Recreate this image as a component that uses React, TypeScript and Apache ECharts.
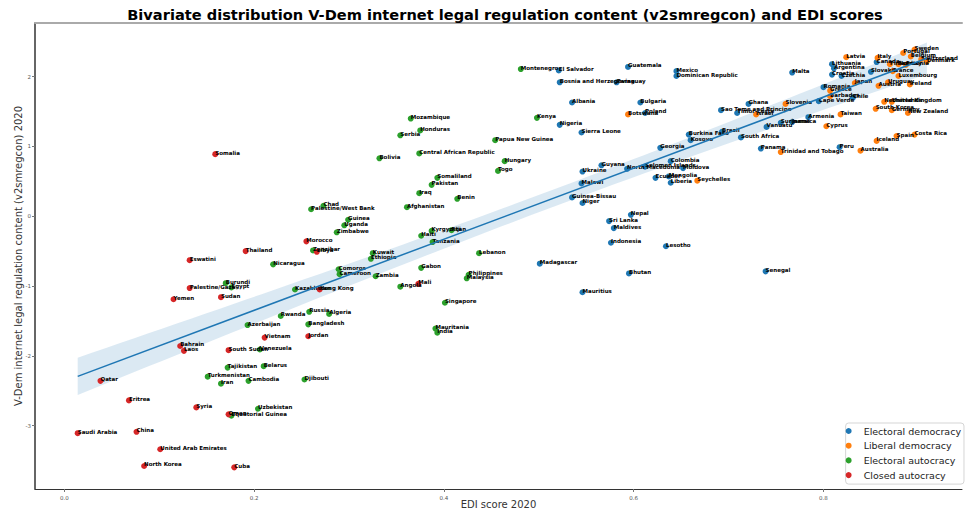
import React, { useEffect, useRef } from "react";
import * as echarts from "echarts";

type Pt = [string, number, number];

// [country, EDI score 2020, v2smregcon 2020]
const electoralDemocracy: Pt[] = [
  ["El Salvador", 0.521, 2.09], ["Bosnia and Herzegovina", 0.522, 1.92], ["Paraguay", 0.582, 1.92],
  ["Guatemala", 0.594, 2.14], ["Albania", 0.535, 1.63], ["Bulgaria", 0.607, 1.63], ["Poland", 0.612, 1.48],
  ["Nigeria", 0.522, 1.31], ["Sierra Leone", 0.545, 1.2], ["Guyana", 0.566, 0.73], ["Ukraine", 0.546, 0.64],
  ["North Macedonia", 0.593, 0.68], ["Malawi", 0.545, 0.47], ["Guinea-Bissau", 0.535, 0.27], ["Niger", 0.546, 0.19],
  ["Nepal", 0.597, 0.02], ["Sri Lanka", 0.574, -0.07], ["Maldives", 0.579, -0.17], ["Indonesia", 0.576, -0.38],
  ["Madagascar", 0.501, -0.68], ["Mauritius", 0.546, -1.09], ["Bhutan", 0.595, -0.82], ["Lesotho", 0.634, -0.43],
  ["Senegal", 0.739, -0.79], ["Colombia", 0.639, 0.79], ["Solomon Islands", 0.612, 0.71], ["Moldova", 0.652, 0.69],
  ["Ecuador", 0.623, 0.55], ["Mongolia", 0.637, 0.57], ["Liberia", 0.639, 0.48], ["Georgia", 0.628, 0.98],
  ["Burkina Faso", 0.658, 1.17], ["Kosovo", 0.66, 1.09], ["Brazil", 0.693, 1.21], ["South Africa", 0.713, 1.13],
  ["Panama", 0.734, 0.97], ["Peru", 0.817, 0.99], ["Mexico", 0.645, 2.08], ["Dominican Republic", 0.645, 2.01],
  ["Malta", 0.767, 2.06], ["Ghana", 0.721, 1.61], ["Sao Tome and Principe", 0.692, 1.52], ["Timor-Leste", 0.709, 1.48],
  ["Armenia", 0.784, 1.42], ["Suriname", 0.755, 1.34], ["Jamaica", 0.767, 1.35], ["Vanuatu", 0.74, 1.28],
  ["Romania", 0.8, 1.85], ["Cape Verde", 0.795, 1.65], ["Chile", 0.831, 1.7], ["Lithuania", 0.809, 2.18],
  ["Argentina", 0.811, 2.12], ["Croatia", 0.809, 2.03], ["Czechia", 0.819, 2.01], ["Slovakia", 0.85, 2.07],
  ["Canada", 0.856, 2.21],
];

const liberalDemocracy: Pt[] = [
  ["Botswana", 0.594, 1.46], ["Seychelles", 0.667, 0.51], ["Trinidad and Tobago", 0.755, 0.92], ["Israel", 0.729, 1.46],
  ["Slovenia", 0.76, 1.61], ["Barbados", 0.807, 1.72], ["Greece", 0.807, 1.8], ["Japan", 0.833, 1.91],
  ["Austria", 0.858, 1.87], ["Uruguay", 0.868, 1.92], ["Ireland", 0.891, 1.89], ["Luxembourg", 0.879, 2.01],
  ["France", 0.873, 2.08], ["Taiwan", 0.818, 1.46], ["Cyprus", 0.803, 1.29], ["Australia", 0.839, 0.94],
  ["Iceland", 0.856, 1.08], ["Spain", 0.877, 1.15], ["Costa Rica", 0.896, 1.17], ["New Zealand", 0.889, 1.48],
  ["South Korea", 0.855, 1.54], ["Germany", 0.872, 1.52], ["Netherlands", 0.864, 1.64], ["United Kingdom", 0.872, 1.64],
  ["Latvia", 0.824, 2.28], ["Italy", 0.857, 2.27], ["Portugal", 0.884, 2.34], ["Sweden", 0.896, 2.39],
  ["Belgium", 0.892, 2.29], ["Switzerland", 0.903, 2.25], ["Denmark", 0.909, 2.22], ["Finland", 0.87, 2.18],
  ["Norway", 0.879, 2.18], ["Estonia", 0.887, 2.17],
];

const electoralAutocracy: Pt[] = [
  ["Montenegro", 0.481, 2.11], ["Mozambique", 0.365, 1.4], ["Kenya", 0.498, 1.41], ["Serbia", 0.354, 1.16],
  ["Honduras", 0.375, 1.23], ["Papua New Guinea", 0.454, 1.09], ["Bolivia", 0.332, 0.83],
  ["Central African Republic", 0.374, 0.9], ["Hungary", 0.464, 0.79], ["Togo", 0.457, 0.65], ["Somaliland", 0.393, 0.55],
  ["Pakistan", 0.387, 0.45], ["Iraq", 0.374, 0.33], ["Benin", 0.414, 0.25], ["Afghanistan", 0.361, 0.13],
  ["Chad", 0.273, 0.15], ["Palestine/West Bank", 0.26, 0.1], ["Guinea", 0.299, -0.05], ["Uganda", 0.295, -0.13],
  ["Zimbabwe", 0.287, -0.23], ["Zanzibar", 0.262, -0.49], ["Kyrgyzstan", 0.387, -0.21], ["Fiji", 0.408, -0.2],
  ["Haiti", 0.376, -0.28], ["Tanzania", 0.388, -0.37], ["Lebanon", 0.437, -0.53], ["Kuwait", 0.325, -0.53],
  ["Ethiopia", 0.323, -0.61], ["Nicaragua", 0.22, -0.69], ["Comoros", 0.289, -0.76], ["Cameroon", 0.29, -0.83],
  ["Zambia", 0.328, -0.86], ["Gabon", 0.376, -0.74], ["Philippines", 0.426, -0.84], ["Malaysia", 0.424, -0.89],
  ["Angola", 0.354, -1.01], ["Burundi", 0.17, -0.96], ["Egypt", 0.176, -1.02], ["Kazakhstan", 0.243, -1.05],
  ["Singapore", 0.401, -1.24], ["Russia", 0.258, -1.37], ["Algeria", 0.279, -1.4], ["Rwanda", 0.228, -1.43],
  ["Azerbaijan", 0.193, -1.56], ["Bangladesh", 0.257, -1.55], ["Mauritania", 0.391, -1.61], ["India", 0.393, -1.67],
  ["Venezuela", 0.206, -1.91], ["Tajikistan", 0.172, -2.17], ["Belarus", 0.21, -2.15], ["Turkmenistan", 0.151, -2.3],
  ["Iran", 0.165, -2.4], ["Cambodia", 0.194, -2.36], ["Djibouti", 0.253, -2.34], ["Uzbekistan", 0.204, -2.76],
  ["Equatorial Guinea", 0.176, -2.86],
];

const closedAutocracy: Pt[] = [
  ["Somalia", 0.159, 0.89], ["Morocco", 0.255, -0.36], ["Libya", 0.266, -0.51], ["Thailand", 0.191, -0.5],
  ["Eswatini", 0.132, -0.63], ["Palestine/Gaza", 0.132, -1.03], ["Sudan", 0.165, -1.16], ["Yemen", 0.115, -1.19],
  ["Hong Kong", 0.269, -1.05], ["Mali", 0.373, -0.97], ["Vietnam", 0.211, -1.74], ["Jordan", 0.257, -1.72],
  ["Bahrain", 0.122, -1.86], ["Laos", 0.126, -1.93], ["South Sudan", 0.173, -1.92], ["Qatar", 0.038, -2.36],
  ["Eritrea", 0.068, -2.64], ["Syria", 0.139, -2.74], ["Oman", 0.173, -2.84], ["Saudi Arabia", 0.014, -3.11],
  ["China", 0.076, -3.09], ["United Arab Emirates", 0.101, -3.34], ["North Korea", 0.084, -3.58], ["Cuba", 0.179, -3.6],
];

const regimeNames = ["Electoral democracy", "Liberal democracy", "Electoral autocracy", "Closed autocracy"];
const regimeColors = ["#1f77b4", "#ff7f0e", "#2ca02c", "#d62728"];
const xTicks = [0, 0.2, 0.4, 0.6, 0.8];
const yTicks = [-3, -2, -1, 0, 1, 2];

const FONT = "DejaVu Sans";

function fitRegression(pts: Pt[]) {
  const n = pts.length;
  const xs = pts.map((p) => p[1]);
  const ys = pts.map((p) => p[2]);
  const mx = xs.reduce((a, b) => a + b, 0) / n;
  const my = ys.reduce((a, b) => a + b, 0) / n;
  let sxx = 0, sxy = 0;
  for (let i = 0; i < n; i++) {
    sxx += (xs[i] - mx) ** 2;
    sxy += (xs[i] - mx) * (ys[i] - my);
  }
  const b = sxy / sxx;
  const a = my - b * mx;
  let ss = 0;
  for (let i = 0; i < n; i++) ss += (ys[i] - a - b * xs[i]) ** 2;
  const s = Math.sqrt(ss / (n - 2));
  const t = 1.97;
  const xmin = Math.min(...xs);
  const xmax = Math.max(...xs);
  const steps = 60;
  const band: [number, number, number][] = [];
  for (let i = 0; i <= steps; i++) {
    const x = xmin + ((xmax - xmin) * i) / steps;
    const hw = t * s * Math.sqrt(1 / n + (x - mx) ** 2 / sxx);
    const yh = a + b * x;
    band.push([x, yh - hw, yh + hw]);
  }
  return { a, b, xmin, xmax, band };
}

export default function App() {
  const ref = useRef<HTMLDivElement>(null);
  useEffect(() => {
    if (!ref.current) return;
    const chart = echarts.init(ref.current, undefined, { renderer: "svg" });
    const groups = [electoralDemocracy, liberalDemocracy, electoralAutocracy, closedAutocracy];
    const all = groups.flat();
    const fit = fitRegression(all);

    const scatterSeries = groups.map((g, i) => ({
      name: regimeNames[i],
      type: "scatter",
      z: 2,
      symbolSize: 6,
      itemStyle: { color: regimeColors[i], opacity: 1 },
      silent: true,
      data: g.map((p) => [p[1], p[2], p[0]]),
      label: {
        show: true,
        position: [3, 1.5],
        align: "left",
        verticalAlign: "middle",
        formatter: (p: any) => p.value[2],
        fontSize: 5.5,
        fontWeight: "bold",
        color: "#000",
        fontFamily: FONT,
      },
    }));

    const band = fit.band;
    chart.setOption({
      animation: false,
      textStyle: { fontFamily: FONT },
      title: {
        text: "Bivariate distribution V-Dem internet legal regulation content (v2smregcon) and EDI scores",
        left: 500,
        textAlign: "center",
        top: 2,
        textStyle: { fontSize: 14.6, fontWeight: "bold", color: "#000", fontFamily: FONT },
      },
      legend: {
        data: regimeNames.map((n) => ({ name: n, icon: "circle" })),
        orient: "vertical",
        right: 2,
        top: 423,
        itemWidth: 20,
        itemHeight: 6,
        itemGap: 2.7,
        padding: [2, 3, 3, 0],
        backgroundColor: "#fff",
        borderColor: "#d5d5d5",
        borderWidth: 1,
        borderRadius: 3,
        textStyle: { fontSize: 9.5, color: "#222", fontFamily: FONT, lineHeight: 12 },
      },
      grid: { left: 35, right: 4, top: 23, bottom: 23, outerBoundsMode: "none" },
      xAxis: [
        {
          type: "value",
          min: -0.031,
          max: 0.946,
          name: "EDI score 2020",
          nameLocation: "middle",
          nameGap: 10,
          nameMoveOverlap: false,
          nameTextStyle: { fontSize: 10, color: "#333", fontFamily: FONT },
          splitLine: { show: false },
          axisLine: { show: true, onZero: false, lineStyle: { color: "#333", width: 1 } },
          axisTick: { show: true, customValues: xTicks, length: 3, lineStyle: { color: "#777" } },
          axisLabel: {
            customValues: xTicks,
            formatter: (v: number) => v.toFixed(1),
            fontSize: 5.5,
            color: "#555",
            margin: 6,
            fontFamily: FONT,
          },
        },
        {
          type: "value",
          position: "top",
          min: -0.031,
          max: 0.946,
          splitLine: { show: false },
          axisLine: { show: true, onZero: false, lineStyle: { color: "#aaa", width: 2 } },
          axisTick: { show: false },
          axisLabel: { show: false },
        },
      ],
      yAxis: {
        type: "value",
        min: -3.91,
        max: 2.77,
        name: "V-Dem internet legal regulation content (v2smregcon) 2020",
        nameLocation: "middle",
        nameGap: 12,
        nameMoveOverlap: false,
        nameTextStyle: { fontSize: 10, color: "#333", fontFamily: FONT },
        splitLine: { show: false },
        axisLine: { show: true, onZero: false, lineStyle: { color: "#333", width: 1.5 } },
        axisTick: { show: true, customValues: yTicks, length: 3, lineStyle: { color: "#777" } },
        axisLabel: {
          customValues: yTicks,
          formatter: (v: number) => String(v),
          fontSize: 5.5,
          color: "#555",
          margin: 4,
          fontFamily: FONT,
        },
      },
      series: [
        {
          name: "ci",
          type: "custom",
          z: 1,
          silent: true,
          data: [[band[0][0], band[0][1]]],
          renderItem: (_params: any, api: any) => {
            const upper = band.map((b) => api.coord([b[0], b[2]]));
            const lower = band.slice().reverse().map((b) => api.coord([b[0], b[1]]));
            return {
              type: "polygon",
              shape: { points: upper.concat(lower) },
              style: { fill: "rgba(31,119,180,0.16)", stroke: "none" },
            };
          },
        },
        {
          name: "fit",
          type: "line",
          z: 3,
          silent: true,
          showSymbol: false,
          lineStyle: { color: "#1f77b4", width: 1.5 },
          data: [
            [fit.xmin, fit.a + fit.b * fit.xmin],
            [fit.xmax, fit.a + fit.b * fit.xmax],
          ],
        },
        ...scatterSeries,
      ],
    });
    return () => chart.dispose();
  }, []);
  return (
    <div
      ref={ref}
      style={{ position: "fixed", left: 0, top: 0, width: 966, height: 512, background: "#fff" }}
    />
  );
}
